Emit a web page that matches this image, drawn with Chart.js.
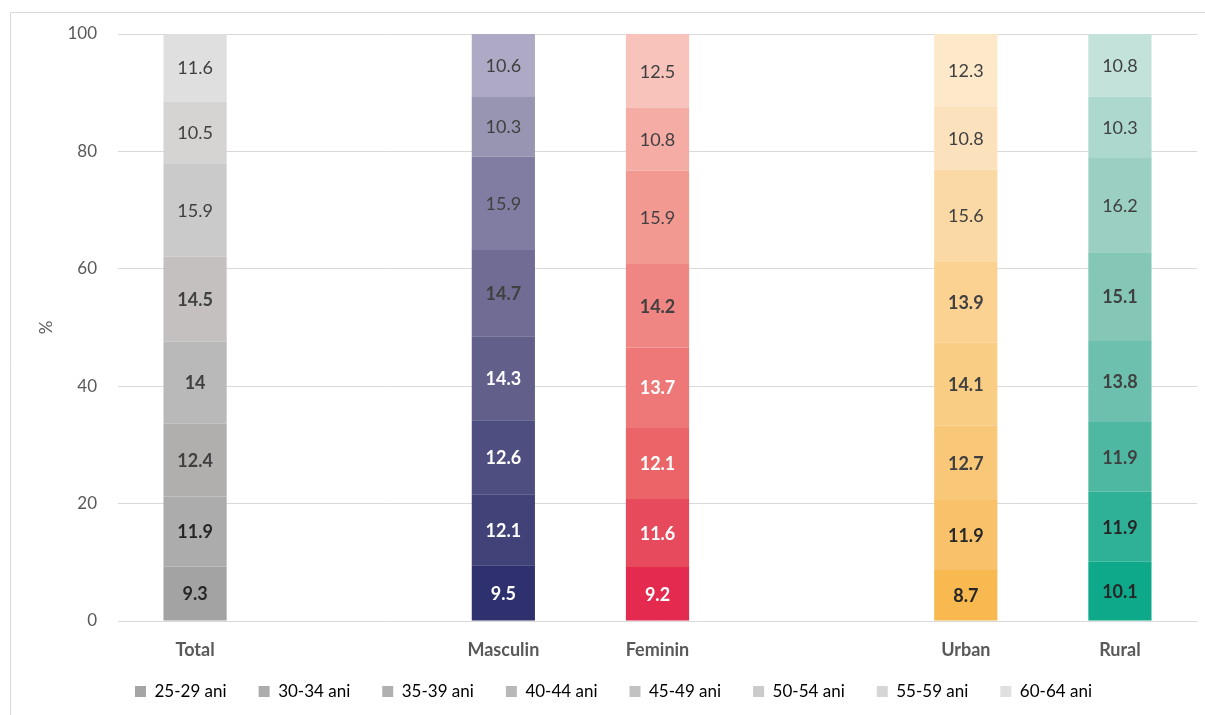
<!DOCTYPE html>
<html>
<head>
<meta charset="utf-8">
<script src="https://cdn.jsdelivr.net/npm/chart.js@4.4.1/dist/chart.umd.min.js"></script>
<style>
  html, body { margin: 0; padding: 0; background: #fff; }
  #wrap { position: relative; width: 1205px; height: 715px; }
</style>
</head>
<body>
<div id="wrap"><canvas id="c"></canvas></div>
<script>
// Categories (empty slots leave gaps between the groups)
const categories = ['Total', '', 'Masculin', 'Feminin', '', 'Urban', 'Rural'];
const ageGroups = ['25-29 ani', '30-34 ani', '35-39 ani', '40-44 ani', '45-49 ani', '50-54 ani', '55-59 ani', '60-64 ani'];

// Share of each age group, % (Total, gap, Masculin, Feminin, gap, Urban, Rural)
const age25_29 = [9.3, null, 9.5, 9.2, null, 8.7, 10.1];
const age30_34 = [11.9, null, 12.1, 11.6, null, 11.9, 11.9];
const age35_39 = [12.4, null, 12.6, 12.1, null, 12.7, 11.9];
const age40_44 = [14, null, 14.3, 13.7, null, 14.1, 13.8];
const age45_49 = [14.5, null, 14.7, 14.2, null, 13.9, 15.1];
const age50_54 = [15.9, null, 15.9, 15.9, null, 15.6, 16.2];
const age55_59 = [10.5, null, 10.3, 10.8, null, 10.8, 10.3];
const age60_64 = [11.6, null, 10.6, 12.5, null, 12.3, 10.8];

const yTicks = [0, 20, 40, 60, 80, 100];

const series = [age25_29, age30_34, age35_39, age40_44, age45_49, age50_54, age55_59, age60_64];

// Colour ramps per group, darkest for the youngest band
const ramps = {
  0: ['#a3a3a3', '#acacac', '#b0afae', '#b9b9b9', '#c4c0bf', '#cacaca', '#d6d4d3', '#dfdfdf'],
  2: ['#2e316d', '#414278', '#4f4e80', '#625f8b', '#716c94', '#817da2', '#9895b2', '#aeaac5'],
  3: ['#e52a50', '#e84a5d', '#eb6468', '#ee7878', '#f08683', '#f29a92', '#f5aca5', '#f8c3ba'],
  5: ['#f8ba50', '#f9c16a', '#f9c778', '#facd85', '#fbd292', '#fbd9a5', '#fce2bc', '#fde8c9'],
  6: ['#0ea98a', '#2fb197', '#4fb8a2', '#6cc0ad', '#84c7b7', '#9acfc2', '#acd8cd', '#c3e2da']
};
const legendGreys = ['#a5a5a5', '#acacac', '#b0b0b0', '#b8b8b8', '#c2c2c2', '#cbcbcb', '#d6d6d6', '#e0e0e0'];

// Label colour per group: which bands carry white text, which darker text
const labelInk = {
  0: ['#262626', '#262626', '#404040', '#404040', '#404040', '#404040', '#404040', '#404040'],
  2: ['#ffffff', '#ffffff', '#ffffff', '#ffffff', '#404040', '#404040', '#404040', '#404040'],
  3: ['#ffffff', '#ffffff', '#ffffff', '#ffffff', '#404040', '#404040', '#404040', '#404040'],
  5: ['#262626', '#262626', '#404040', '#404040', '#404040', '#404040', '#404040', '#404040'],
  6: ['#262626', '#262626', '#404040', '#404040', '#404040', '#404040', '#404040', '#404040']
};

const FONT = 'Lato, "Noto Sans", sans-serif';

const datasets = series.map((values, s) => ({
  label: ageGroups[s],
  data: values,
  backgroundColor: categories.map((c, j) => ramps[j] ? ramps[j][s] : 'rgba(0,0,0,0)'),
  borderWidth: 0,
  barPercentage: 0.41,
  categoryPercentage: 1.0
}));

// Value labels centred in every segment
const segmentLabels = {
  id: 'segmentLabels',
  afterDatasetsDraw(chart) {
    const ctx = chart.ctx;
    ctx.save();
    ctx.textAlign = 'center';
    ctx.textBaseline = 'middle';
    chart.data.datasets.forEach((ds, s) => {
      const meta = chart.getDatasetMeta(s);
      meta.data.forEach((bar, j) => {
        const v = ds.data[j];
        if (v === null || v === undefined) return;
        const p = bar.getProps(['x', 'y', 'base'], true);
        ctx.font = (s <= 4 ? 'bold ' : '') + '18px ' + FONT;
        ctx.fillStyle = labelInk[j] ? labelInk[j][s] : '#404040';
        ctx.fillText(String(v), p.x, (p.y + p.base) / 2 + 1);
      });
    });
    ctx.restore();
  }
};

// Thin frame along the top and left edges; also let the category
// labels run below the axis band so they are not cut off
const frame = {
  id: 'frame',
  afterLayout(chart) {
    chart.scales.x.bottom = chart.height;
  },
  beforeDraw(chart) {
    const ctx = chart.ctx;
    ctx.save();
    ctx.strokeStyle = '#d9d9d9';
    ctx.lineWidth = 1;
    ctx.beginPath();
    ctx.moveTo(10.5, chart.height);
    ctx.lineTo(10.5, 12.5);
    ctx.lineTo(chart.width, 12.5);
    ctx.stroke();
    ctx.restore();
  }
};

new Chart(document.getElementById('c'), {
  type: 'bar',
  data: { labels: categories, datasets },
  plugins: [frame, segmentLabels],
  options: {
    responsive: true,
    maintainAspectRatio: false,
    animation: false,
    layout: { padding: { left: 30, right: 8, top: 34, bottom: 5 } },
    plugins: {
      tooltip: { enabled: false },
      legend: {
        position: 'bottom',
        labels: {
          boxWidth: 11,
          boxHeight: 11,
          padding: 32,
          color: '#595959',
          font: { family: FONT, size: 17 },
          generateLabels(chart) {
            return chart.data.datasets.map((ds, i) => ({
              text: ds.label,
              fillStyle: legendGreys[i],
              strokeStyle: legendGreys[i],
              lineWidth: 0,
              hidden: false,
              datasetIndex: i
            }));
          }
        }
      }
    },
    scales: {
      x: {
        stacked: true,
        grid: { display: false, drawTicks: false },
        border: { display: false },
        ticks: {
          color: '#595959',
          padding: 18,
          font: { family: FONT, size: 18, weight: 'bold' }
        },
        afterFit(scale) { scale.height = 30; }
      },
      y: {
        stacked: true,
        min: 0,
        max: 100,
        afterBuildTicks(scale) { scale.ticks = yTicks.map(v => ({ value: v })); },
        grid: { color: '#d9d9d9', drawTicks: false, lineWidth: 1 },
        border: { display: false },
        ticks: {
          color: '#595959',
          padding: 21,
          font: { family: FONT, size: 17 }
        },
        title: {
          display: true,
          text: '%',
          color: '#595959',
          font: { family: FONT, size: 17 },
          padding: { top: 6, bottom: 0 }
        },
        afterFit(scale) { scale.width = 88; }
      }
    }
  }
});
</script>
</body>
</html>
